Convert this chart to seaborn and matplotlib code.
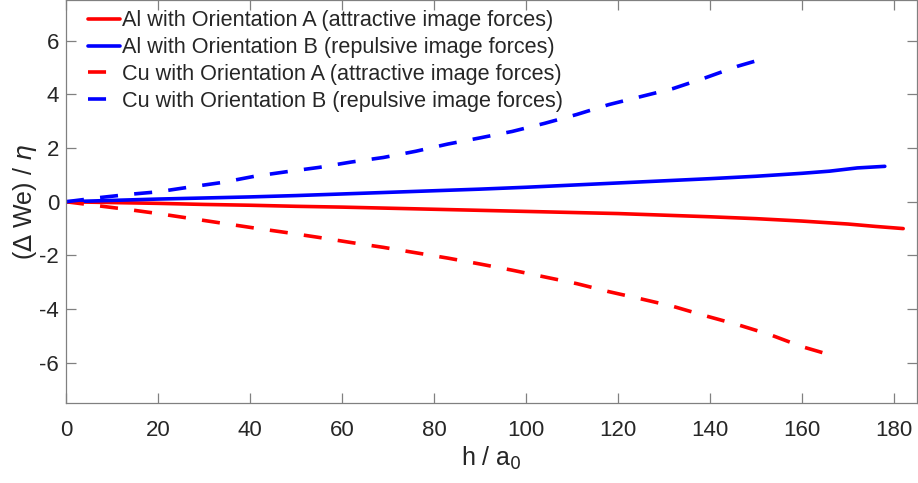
import pandas as pd
import seaborn as sns
import matplotlib.pyplot as plt

# Al, orientation A (solid red)
al_a_h = [0, 10, 20, 30, 40, 50, 60, 70, 80, 90, 100, 110, 120, 130, 140, 150, 160, 170, 176, 182]
al_a_w = [0, -0.03, -0.06, -0.1, -0.13, -0.17, -0.2, -0.24, -0.28, -0.32, -0.36, -0.4, -0.44,
          -0.5, -0.56, -0.63, -0.72, -0.83, -0.92, -1.0]

# Al, orientation B (solid blue)
al_b_h = [0, 10, 20, 30, 40, 50, 60, 70, 80, 90, 100, 110, 120, 130, 140, 150, 160, 166, 172, 178]
al_b_w = [0, 0.05, 0.1, 0.14, 0.18, 0.23, 0.29, 0.35, 0.41, 0.47, 0.54, 0.62, 0.7, 0.78, 0.86,
          0.95, 1.06, 1.14, 1.26, 1.32]

# Cu, orientation A (dashed red)
cu_a_h = [0, 7, 14, 20, 27, 34, 41, 48, 55, 62, 69, 76, 83, 90, 97, 104, 111, 118, 125, 132,
          139, 146, 153, 160, 165]
cu_a_w = [0, -0.15, -0.3, -0.44, -0.62, -0.8, -0.98, -1.15, -1.33, -1.52, -1.7, -1.9, -2.1,
          -2.32, -2.55, -2.8, -3.05, -3.35, -3.62, -3.9, -4.25, -4.58, -4.95, -5.4, -5.65]

# Cu, orientation B (dashed blue)
cu_b_h = [0, 7, 14, 20, 27, 34, 41, 48, 55, 62, 69, 76, 83, 90, 97, 104, 111, 118, 125, 132,
          139, 146, 153]
cu_b_w = [0, 0.15, 0.28, 0.37, 0.55, 0.72, 0.95, 1.12, 1.28, 1.48, 1.65, 1.88, 2.15, 2.38,
          2.62, 2.92, 3.25, 3.62, 3.92, 4.22, 4.62, 5.05, 5.4]

labels = ['Al with Orientation A (attractive image forces)',
          'Al with Orientation B (repulsive image forces)',
          'Cu with Orientation A (attractive image forces)',
          'Cu with Orientation B (repulsive image forces)']
x_ticks = [0, 20, 40, 60, 80, 100, 120, 140, 160, 180]
y_ticks = [-6, -4, -2, 0, 2, 4, 6]

sns.set_style('ticks')
plt.rcParams['font.family'] = ['Liberation Sans', 'DejaVu Sans']
plt.rcParams['mathtext.fontset'] = 'dejavusans'
plt.rcParams['axes.unicode_minus'] = False

fig = plt.figure(figsize=(9.18, 4.83), dpi=100)
ax = fig.add_axes([66 / 918, 80 / 483, 851 / 918, 402.5 / 483])

series = [(al_a_h, al_a_w, 'red', '-'),
          (al_b_h, al_b_w, 'blue', '-'),
          (cu_a_h, cu_a_w, 'red', '--'),
          (cu_b_h, cu_b_w, 'blue', '--')]
for (h, w, c, ls), lab in zip(series, labels):
    line = sns.lineplot(x=h, y=w, color=c, linewidth=2.6, label=lab, ax=ax)
    line.lines[-1].set_linestyle(ls)
    if ls == '--':
        line.lines[-1].set_dashes((5.0, 4.5))

ax.set_xlim(0, 185)
ax.set_ylim(-7.5, 7.5)
ax.set_xticks(x_ticks)
ax.set_yticks(y_ticks)
ax.tick_params(direction='in', length=7, width=0.9, color='#808080',
               labelsize=16, labelcolor='#262626', top=True, right=True)
ax.tick_params(axis='x', pad=12)
ax.tick_params(axis='y', pad=5)
for s in ax.spines.values():
    s.set_visible(True)
    s.set_color('#808080')
    s.set_linewidth(0.9)

ax.set_xlabel('h / a$_0$', fontsize=18, color='#262626', labelpad=3)
ax.set_ylabel(r'($\Delta$ We) / $\eta$', fontsize=18, color='#262626', labelpad=0)

leg = ax.legend(loc='upper left', frameon=False, fontsize=15.6, handlelength=1.45,
                handletextpad=0.1, labelspacing=0.27, borderaxespad=0.0,
                bbox_to_anchor=(0.016, 0.997))
for lh in leg.get_lines():
    lh.set_linewidth(2.6)

fig.savefig('out.png', dpi=100)
